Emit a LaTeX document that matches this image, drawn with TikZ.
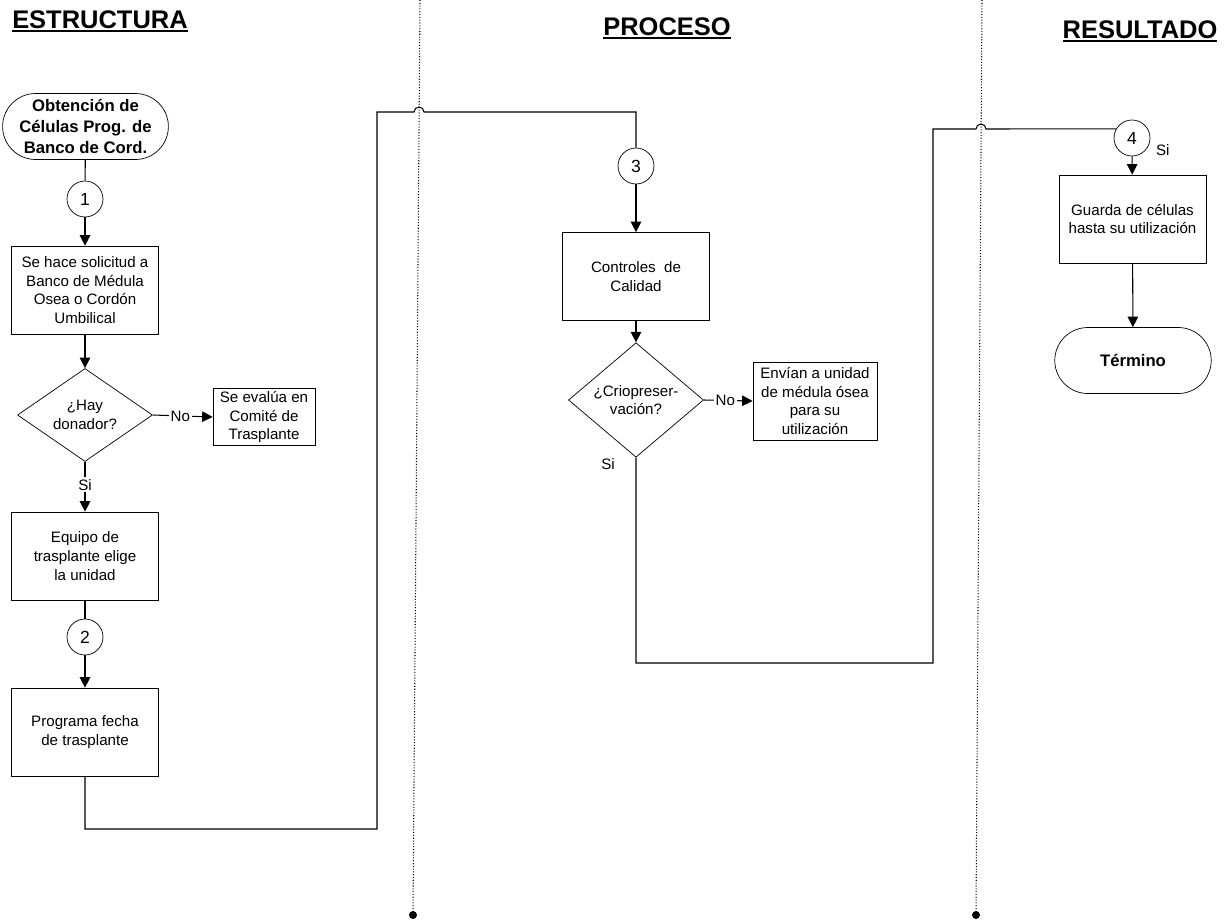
\documentclass[tikz,border=0pt]{standalone}
\usepackage{fontspec}
\setmainfont{Liberation Sans}
\usetikzlibrary{positioning,shapes.geometric,shapes.misc,arrows.meta}
\newcommand{\subr}[1]{\setbox0\hbox{#1}\rlap{\rule[-2.4pt]{\wd0}{1.1pt}}\box0}

\begin{document}
\begin{tikzpicture}[
		x=0.02cm, y=-0.02cm
		,every node/.append style={font=\fontsize{8.6}{10.6}\selectfont, align=center, inner sep=1pt}
		,caja/.style={draw, rectangle, minimum width=2.94cm, minimum height=1.76cm}
		,nota/.style={draw, rectangle, inner sep=1.5pt}
		,rombo/.style={draw, diamond, minimum width=2.7cm, minimum height=1.36cm, inner sep=0pt}
		,term/.style={draw, rounded rectangle, minimum width=3.2cm, minimum height=1.32cm, font=\fontsize{9.5}{12.2}\selectfont\bfseries}
		,conec/.style={draw, circle, minimum size=0.72cm, inner sep=0pt, font=\fontsize{10}{12}\selectfont}
		,titulo/.style={anchor=base, font=\fontsize{14.5}{17}\selectfont\bfseries}
		,linea/.style={line width=0.6pt}
		,flecha/.style={linea, -{Triangle[length=6pt,width=6pt]}}
		,etiq/.style={fill=white, inner sep=1pt}
		,sep/.style={densely dotted, line width=0.6pt}
		,punto/.style={circle, fill, minimum size=0.16cm, inner sep=0pt}
	]
	\useasboundingbox (0,0) rectangle (1228,920);

	% titulos de columna
	\node [titulo] (est) at (100,28) {\subr{ESTRUCTURA}};
	\node [titulo] (pro) at (667,35) {\subr{PROCESO}};
	\node [titulo] (res) at (1140,38) {\subr{RESULTADO}};

	% separadores
	\coordinate (sa) at (420,0);
	\coordinate (sb) at (982,0);
	\node [punto] (pa) at (413,915) {};
	\node [punto] (pb) at (976,915) {};
	\draw [sep] (sa) -- (pa.center);
	\draw [sep] (sb) -- (pb.center);

	% estructura
	\node [term] (ini) at (85.5,126.5) {Obtención de\\Células Prog. de\\Banco de Cord.};
	\node [conec] (c1) at (85,199) {1};
	\node [caja] (sol) at (85,290) {Se hace solicitud a\\Banco de Médula\\Osea o Cordón\\Umbilical};
	\node [rombo] (hay) at (85,415) {¿Hay\\donador?};
	\node [nota, minimum width=2.04cm, minimum height=1cm] (eva) at (264,417) {Se evalúa en\\Comité de\\Trasplante};
	\node [caja] (equ) at (85,556) {Equipo de\\trasplante elige\\la unidad};
	\node [conec] (c2) at (85,637) {2};
	\node [caja] (fec) at (85,732) {Programa fecha\\de trasplante};

	% proceso
	\node [conec] (c3) at (636,166) {3};
	\node [caja] (cal) at (636,276.5) {Controles~~de\\Calidad};
	\node [rombo] (cri) at (636,400) {¿Criopreser-\\vación?};
	\node [nota, minimum width=2.48cm, minimum height=1.56cm] (env) at (815,401) {Envían a unidad\\de médula ósea\\para su\\utilización};
	\node (si2) at (608,464) {Si};

	% resultado
	\node [conec] (c4) at (1132,138) {4};
	\node [anchor=west] (si3) at (1154,150) {Si};
	\node [caja] (gua) at (1132.5,219) {Guarda de células\\hasta su utilización};
	\node [term] (fin) at (1133,360.5) {Término};

	\draw [linea] (ini) -- (c1);
	\draw [flecha] (c1) -- (sol);
	\draw [flecha] (sol) -- (hay);
	\draw [flecha] (hay.east) -- node [etiq, pos=.46] {No} (eva.west);
	\draw [flecha] (hay.south) -- node [etiq, pos=.46] {Si} (equ.north);
	\draw [linea] (equ) -- (c2);
	\draw [flecha] (c2) -- (fec);

	\coordinate (k1) at (377,829);
	\coordinate (h1) at (414,112);
	\draw [linea] (fec.south) |- (k1) |- (h1) arc [start angle=180, end angle=0, radius=0.1cm] -| (c3.north);

	\draw [flecha] (c3) -- (cal);
	\draw [flecha] (cal) -- (cri);
	\draw [flecha] (cri.east) -- node [etiq, pos=.44] {No} (env.west);

	\coordinate (k2) at (933,663);
	\coordinate (h2) at (976,129);
	\draw [linea] (cri.south) |- (k2) |- (h2) arc [start angle=180, end angle=0, radius=0.1cm] -- (c4.150);

	\draw [flecha] (c4) -- (gua);
	\draw [flecha] (gua) -- (fin);
\end{tikzpicture}
\end{document}
